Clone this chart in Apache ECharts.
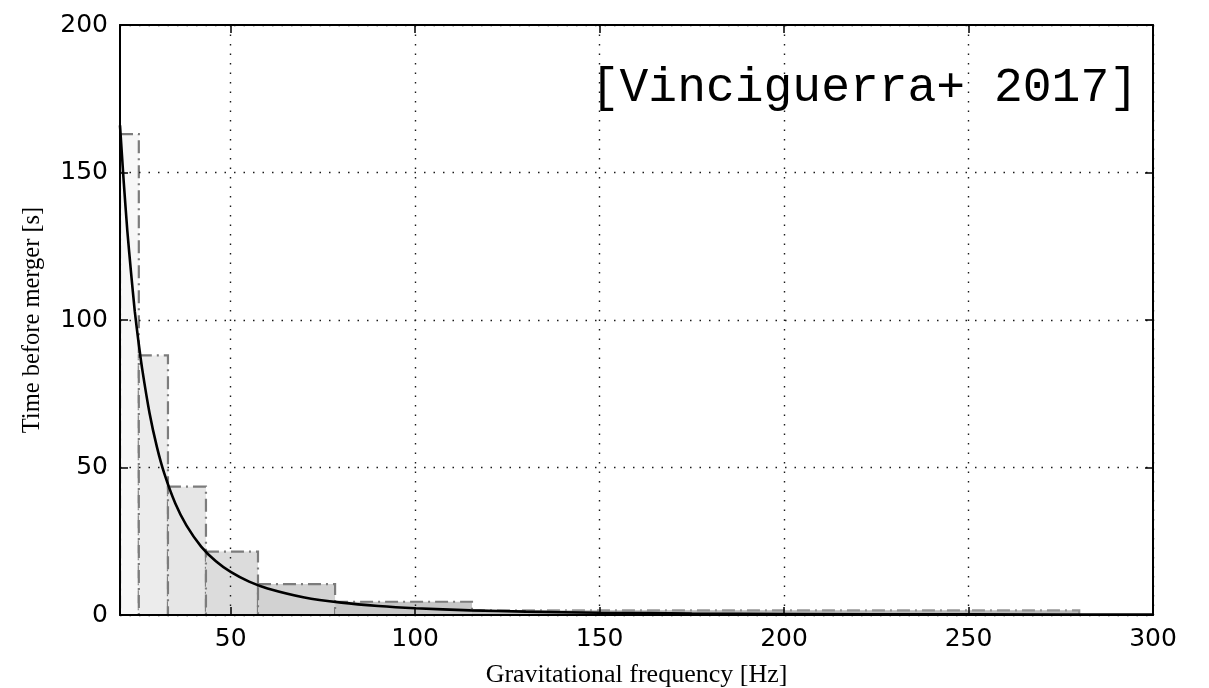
<!DOCTYPE html>
<html>
<head>
<meta charset="utf-8">
<title>Time before merger vs gravitational frequency</title>
<script src="https://cdn.jsdelivr.net/npm/echarts@6/dist/echarts.min.js"></script>
<style>
  html, body { margin: 0; padding: 0; background: #ffffff; }
  #chart { width: 1209px; height: 688px; }
</style>
</head>
<body>
<div id="chart"></div>
<script>
// Frequency bins (Hz): left and right edge of each time slice
const binStart = [20, 25.1, 33.0, 43.3, 57.4, 78.3, 115.4];
const binEnd   = [25.1, 33.0, 43.3, 57.4, 78.3, 115.4, 280];
// Time before merger at the start of each bin (s)
const binHeight = [163, 88, 43.5, 21.5, 10.5, 4.5, 1.6];
// Fill shade of each bin, lighter at low frequency
const binFill = ['#f7f7f7', '#ececec', '#e6e6e6', '#dcdcdc', '#d2d2d2', '#c7c7c7', '#bdbdbd'];

// Chirp curve: frequency (Hz) and time before merger (s)
const curveFreq = [20, 21, 22, 23, 24, 25, 26, 28, 30, 32, 35, 38, 42, 46, 50, 55, 60, 70, 80, 90, 100, 115, 130, 150, 175, 200, 250, 300];
const curveTime = [166, 147, 130, 116, 103, 92.7, 83.5, 68.5, 57, 48, 37.8, 30.4, 23.2, 18.2, 14.6, 11.3, 9.0, 5.95, 4.2, 3.05, 2.3, 1.58, 1.14, 0.78, 0.52, 0.36, 0.2, 0.12];

const xTicks = [50, 100, 150, 200, 250, 300];
const yTicks = [0, 50, 100, 150, 200];

const chart = echarts.init(document.getElementById('chart'), null, { renderer: 'canvas' });

const tickFont = { fontFamily: 'DejaVu Sans', fontSize: 25, color: '#000' };
const frameLine = { show: true, onZero: false, lineStyle: { color: '#000', width: 2 } };
const innerTick = { show: true, inside: true, length: 8, lineStyle: { color: '#000', width: 1.5 } };
const dottedGrid = { show: true, lineStyle: { color: '#1a1a1a', width: 1.4, type: [1.5, 8] } };

const binData = binStart.map((s, i) => [s, binEnd[i], binHeight[i], i]);
const curveData = curveFreq.map((f, i) => [f, curveTime[i]]);

chart.setOption({
  animation: false,
  backgroundColor: '#ffffff',
  grid: { left: 120, right: 56, top: 25, bottom: 73, containLabel: false, outerBoundsMode: 'none' },
  xAxis: [
    {
      type: 'value', position: 'bottom', min: 20, max: 300,
      axisLine: frameLine,
      axisTick: Object.assign({ customValues: xTicks }, innerTick),
      axisLabel: Object.assign({ customValues: xTicks, margin: 12 }, tickFont),
      splitLine: dottedGrid,
      name: 'Gravitational frequency [Hz]',
      nameLocation: 'middle', nameGap: 47,
      nameTextStyle: { fontFamily: 'Liberation Serif', fontSize: 26, color: '#000' }
    },
    {
      type: 'value', position: 'top', min: 20, max: 300,
      axisLine: frameLine,
      axisTick: Object.assign({ customValues: xTicks }, innerTick),
      axisLabel: { show: false },
      splitLine: { show: false }
    }
  ],
  yAxis: [
    {
      type: 'value', position: 'left', min: 0, max: 200, interval: 50,
      axisLine: frameLine,
      axisTick: innerTick,
      axisLabel: Object.assign({ customValues: yTicks, margin: 12 }, tickFont),
      splitLine: dottedGrid,
      name: 'Time before merger [s]',
      nameLocation: 'middle', nameGap: 75,
      nameTextStyle: { fontFamily: 'Liberation Serif', fontSize: 24.5, color: '#000' }
    },
    {
      type: 'value', position: 'right', min: 0, max: 200, interval: 50,
      axisLine: frameLine,
      axisTick: innerTick,
      axisLabel: { show: false },
      splitLine: { show: false }
    }
  ],
  graphic: [
    {
      type: 'text', x: 1138, y: 88, z: 10,
      style: {
        text: '[Vinciguerra+ 2017]',
        font: '48px "Liberation Mono"',
        fill: '#000',
        textAlign: 'right',
        textVerticalAlign: 'middle'
      }
    }
  ],
  series: [
    {
      // Shaded time slices with dash-dot outlines
      type: 'custom',
      z: -1,
      clip: true,
      xAxisIndex: 0, yAxisIndex: 0,
      data: binData,
      renderItem: function (params, api) {
        const topLeft = api.coord([api.value(0), api.value(2)]);
        const bottomRight = api.coord([api.value(1), 0]);
        const idx = api.value(3);
        return {
          type: 'rect',
          shape: {
            x: topLeft[0], y: topLeft[1],
            width: bottomRight[0] - topLeft[0],
            height: bottomRight[1] - topLeft[1]
          },
          style: {
            fill: binFill[idx],
            stroke: idx === binFill.length - 1 ? '#969696' : '#7c7c7c',
            lineWidth: 2.2,
            lineDash: [13, 5, 2, 5]
          }
        };
      }
    },
    {
      // Chirp curve
      type: 'line',
      z: 5,
      xAxisIndex: 0, yAxisIndex: 0,
      data: curveData,
      showSymbol: false,
      smooth: 0.2,
      clip: true,
      lineStyle: { color: '#000', width: 2.6 }
    }
  ]
});
</script>
</body>
</html>
